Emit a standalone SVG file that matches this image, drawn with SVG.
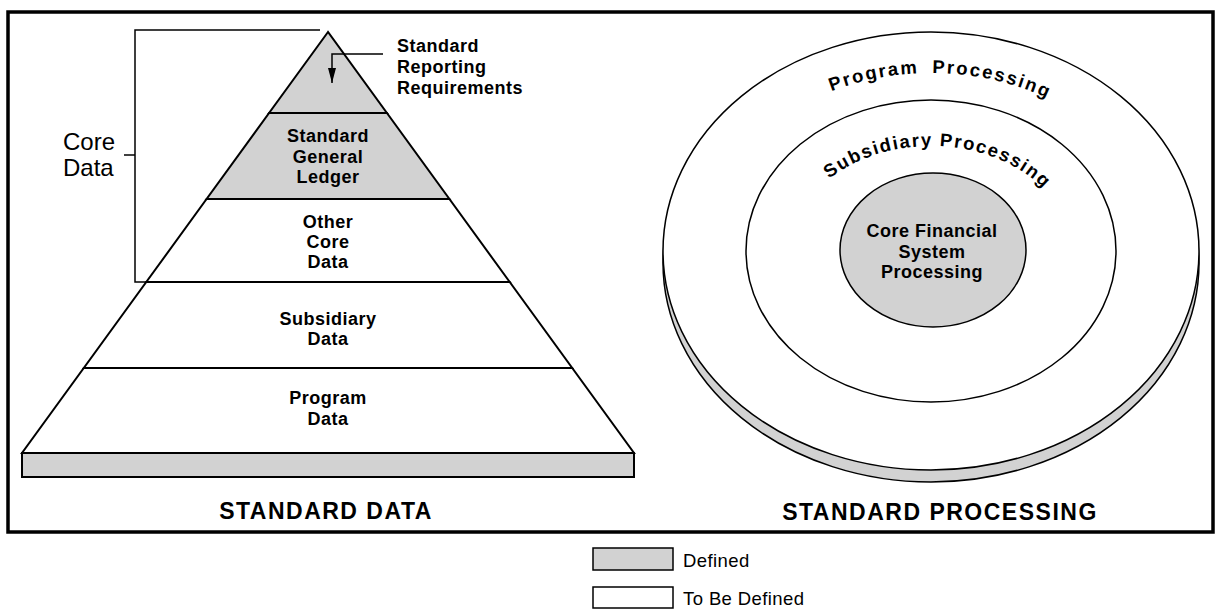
<svg xmlns="http://www.w3.org/2000/svg" width="1217" height="610" viewBox="0 0 1217 610">
<style>
.t{font-family:"Liberation Sans",Arial,Helvetica,sans-serif;fill:#000}
.b{font-weight:bold;font-size:18px;letter-spacing:0.5px}
.c{text-anchor:middle}
.reg{font-size:24px}
.leg{font-size:18.5px;letter-spacing:0.4px}
.title{font-weight:bold;font-size:23px;letter-spacing:1.5px;text-anchor:middle}
.arc{font-weight:bold;font-size:18.5px;letter-spacing:1.6px}
.gray{fill:#d2d2d2}
.ln{stroke:#000;stroke-width:1.5;fill:none}
.el{stroke:#000;stroke-width:1.5}
</style>
<defs>
<marker id="ah" markerWidth="15" markerHeight="8" refX="15" refY="4" orient="auto" markerUnits="userSpaceOnUse" viewBox="0 0 15 8">
<path d="M0,0 L15,4 L0,8 Z" fill="#000"/>
</marker>
<path id="arcOuter" d="M705,251 A226,178 0 0 1 1157,251"/>
<path id="arcMid" d="M791,251 A140,105 0 0 1 1071,251"/>
</defs>
<rect x="0" y="0" width="1217" height="610" fill="#fff"/>
<rect id="frame" x="8" y="12" width="1205" height="520" fill="none" stroke="#000" stroke-width="3.5"/>

<g id="pyr-top">
<polygon points="328,32 269.1,113 386.9,113" class="gray" stroke="#000" stroke-width="2"/>
</g>
<g id="pyr-sgl">
<polygon points="269.1,113 386.9,113 449.4,199 206.6,199" class="gray" stroke="#000" stroke-width="2"/>
<text class="t b c" x="328" y="142">Standard</text>
<text class="t b c" x="328" y="163">General</text>
<text class="t b c" x="328" y="183">Ledger</text>
</g>
<g id="pyr-other">
<polygon points="206.6,199 449.4,199 509.7,282 146.3,282" fill="#fff" stroke="#000" stroke-width="2"/>
<text class="t b c" x="328" y="228">Other</text>
<text class="t b c" x="328" y="248">Core</text>
<text class="t b c" x="328" y="268">Data</text>
</g>
<g id="pyr-subsidiary">
<polygon points="146.3,282 509.7,282 572.2,368 83.8,368" fill="#fff" stroke="#000" stroke-width="2"/>
<text class="t b c" x="328" y="325">Subsidiary</text>
<text class="t b c" x="328" y="345">Data</text>
</g>
<g id="pyr-program">
<polygon points="83.8,368 572.2,368 634,453 22,453" fill="#fff" stroke="#000" stroke-width="2"/>
<text class="t b c" x="328" y="404">Program</text>
<text class="t b c" x="328" y="425">Data</text>
</g>
<g id="pyr-base">
<rect x="22" y="453" width="612" height="24" class="gray" stroke="#000" stroke-width="2"/>
</g>
<g id="srr-label">
<text class="t b" x="397" y="52">Standard</text>
<text class="t b" x="397" y="73">Reporting</text>
<text class="t b" x="397" y="94">Requirements</text>
</g>
<g id="core-data-label">
<text class="t reg" x="63" y="150">Core</text>
<text class="t reg" x="63" y="176">Data</text>
</g>
<g id="connectors">
<path class="ln" d="M383,54 H332 V83" marker-end="url(#ah)"/>
<path class="ln" d="M320,30 H135 V282 H146"/>
<path class="ln" d="M124,155 H135"/>
</g>
<text class="t title" x="326" y="519">STANDARD DATA</text>

<g id="disc">
<ellipse cx="931" cy="263" rx="268" ry="219" class="gray el"/>
<ellipse cx="931" cy="251" rx="268" ry="219" fill="#fff" class="el"/>
<text class="t arc" word-spacing="6"><textPath href="#arcOuter" startOffset="51.5%" text-anchor="middle" style="letter-spacing:2px">Program Processing</textPath></text>
</g>
<g id="subsidiary-ring">
<ellipse cx="931" cy="251" rx="185" ry="151" fill="none" class="el"/>
<text class="t arc"><textPath href="#arcMid" startOffset="52%" text-anchor="middle">Subsidiary Processing</textPath></text>
</g>
<g id="core-processing">
<ellipse cx="933" cy="250" rx="93" ry="77" class="gray el"/>
<text class="t b c" x="932" y="237">Core Financial</text>
<text class="t b c" x="932" y="258">System</text>
<text class="t b c" x="932" y="278">Processing</text>
</g>
<text class="t title" x="940" y="520">STANDARD PROCESSING</text>

<g id="legend-defined">
<rect x="593" y="548" width="80" height="22" class="gray" stroke="#000" stroke-width="1.5"/>
<text class="t leg" x="683" y="567">Defined</text>
</g>
<g id="legend-tbd">
<rect x="593" y="587" width="80" height="21" fill="#fff" stroke="#000" stroke-width="1.5"/>
<text class="t leg" x="683" y="605">To Be Defined</text>
</g>
</svg>
